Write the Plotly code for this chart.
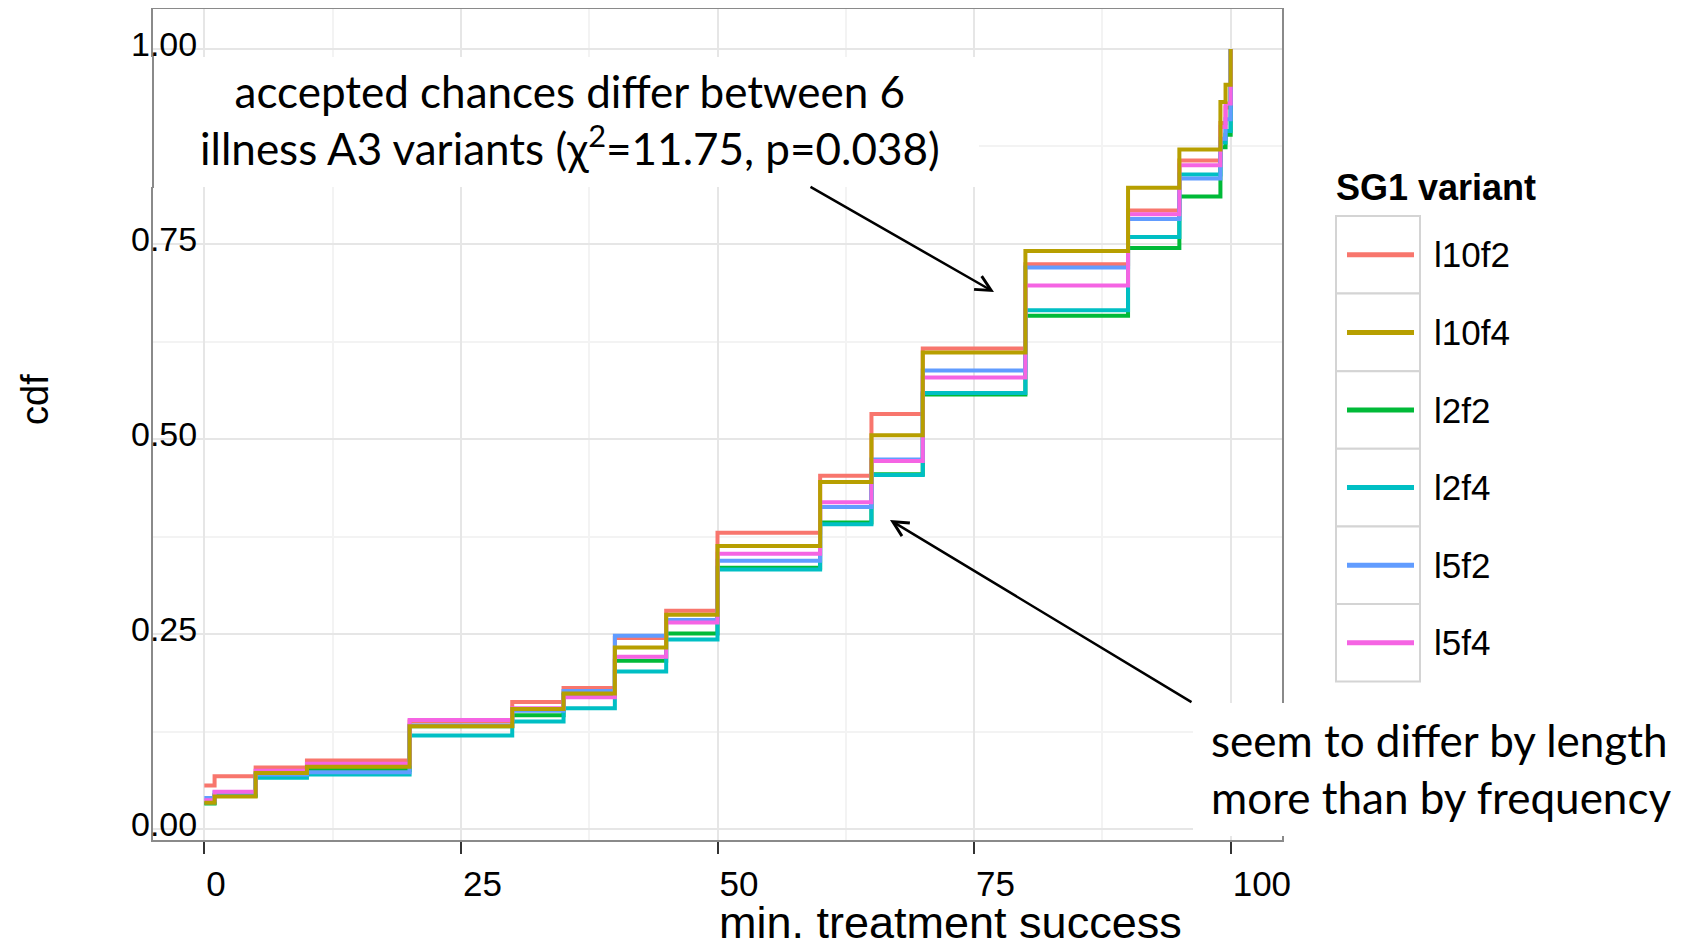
import plotly.graph_objects as go

# ---------------- data ----------------
steps_x = [0, 1, 5, 10, 20, 30, 35, 40, 45, 50, 60, 65, 70, 80, 90, 95, 99, 99.5, 100]

variants = ["l10f2", "l10f4", "l2f2", "l2f4", "l5f2", "l5f4"]
colors = ["#F8766D", "#B79F00", "#00BA38", "#00BFC4", "#619CFF", "#F564E3"]

cdf_l10f2 = [0.056, 0.068, 0.079, 0.088, 0.138, 0.163, 0.181, 0.245, 0.280, 0.380, 0.453, 0.532, 0.616, 0.724, 0.793, 0.857, 0.905, 0.925, 1.0]
cdf_l10f4 = [0.034, 0.042, 0.072, 0.080, 0.132, 0.154, 0.174, 0.233, 0.275, 0.363, 0.445, 0.505, 0.611, 0.741, 0.822, 0.871, 0.932, 0.954, 1.0]
cdf_l2f2 = [0.033, 0.043, 0.070, 0.076, 0.132, 0.146, 0.172, 0.216, 0.251, 0.335, 0.393, 0.455, 0.557, 0.658, 0.745, 0.811, 0.874, 0.890, 1.0]
cdf_l2f4 = [0.034, 0.044, 0.066, 0.070, 0.120, 0.138, 0.155, 0.202, 0.243, 0.333, 0.391, 0.454, 0.559, 0.665, 0.759, 0.839, 0.880, 0.895, 1.0]
cdf_l5f2 = [0.040, 0.047, 0.070, 0.073, 0.133, 0.152, 0.177, 0.248, 0.268, 0.344, 0.413, 0.474, 0.588, 0.720, 0.782, 0.834, 0.885, 0.910, 1.0]
cdf_l5f4 = [0.037, 0.048, 0.075, 0.084, 0.140, 0.155, 0.169, 0.221, 0.265, 0.353, 0.419, 0.472, 0.579, 0.697, 0.788, 0.851, 0.900, 0.930, 1.0]

series = {
    "l10f2": cdf_l10f2,
    "l10f4": cdf_l10f4,
    "l2f2": cdf_l2f2,
    "l2f4": cdf_l2f4,
    "l5f2": cdf_l5f2,
    "l5f4": cdf_l5f4,
}
draw_order = ["l10f2", "l2f2", "l2f4", "l5f2", "l5f4", "l10f4"]

x_ticks = [0, 25, 50, 75, 100]
y_ticks = [0, 0.25, 0.5, 0.75, 1.0]
x_minor = [12.5, 37.5, 62.5, 87.5]
y_minor = [0.125, 0.375, 0.625, 0.875]

# ---------------- layout helpers ----------------
# the page body has an 8px margin, so the figure starts at screen (8, 8)
OFF = 8
SCREEN_W, SCREEN_H = 1696, 940
W, H = SCREEN_W - OFF, SCREEN_H - OFF
L, R, T, B = 153, 1282, 9, 840  # plot area in screen pixels


def px(x):
    return (x - L) / (R - L)


def py(y):
    return (B - y) / (B - T)


AX_FONT = "Liberation Sans, Arial, sans-serif"
TXT_FONT = "Lato, Carlito, Calibri, sans-serif"

fig = go.Figure()
for name in draw_order:
    i = variants.index(name)
    fig.add_trace(go.Scatter(
        x=steps_x, y=series[name], mode="lines", name=name,
        line=dict(color=colors[i], width=4, shape="hv"),
        showlegend=False,
    ))

shapes = []
annotations = []

# white boxes behind the slide text
shapes.append(dict(type="rect", xref="paper", yref="paper", layer="above",
                   x0=px(118), x1=px(979), y0=py(187), y1=py(57),
                   fillcolor="white", line=dict(width=0)))
shapes.append(dict(type="line", xref="paper", yref="paper", layer="above",
                   x0=0, x1=0, y0=py(188), y1=py(56),
                   line=dict(color="#8a8a8a", width=2)))
shapes.append(dict(type="rect", xref="paper", yref="paper", layer="above",
                   x0=px(1193), x1=px(1700), y0=py(836), y1=py(703),
                   fillcolor="white", line=dict(width=0)))

# custom legend
row_h = 77.6
top0 = 216
for i, name in enumerate(variants):
    y0 = top0 + i * row_h
    y1 = y0 + row_h
    yc = (y0 + y1) / 2
    shapes.append(dict(type="rect", xref="paper", yref="paper",
                       x0=px(1336), x1=px(1420), y0=py(y1), y1=py(y0),
                       fillcolor="white", line=dict(color="#d4d4d4", width=2)))
    shapes.append(dict(type="line", xref="paper", yref="paper",
                       x0=px(1347), x1=px(1414), y0=py(yc), y1=py(yc),
                       line=dict(color=colors[i], width=5)))
    annotations.append(dict(xref="paper", yref="paper", x=px(1432), y=py(yc),
                            text=name, showarrow=False, xanchor="left", yanchor="middle",
                            font=dict(family=AX_FONT, size=35, color="black")))
annotations.append(dict(xref="paper", yref="paper", x=px(1334), y=py(187),
                        text="<b>SG1 variant</b>", showarrow=False,
                        xanchor="left", yanchor="middle",
                        font=dict(family=AX_FONT, size=36, color="black")))

# axis titles
annotations.append(dict(xref="paper", yref="paper", x=px(950), y=py(950),
                        text="min. treatment success", showarrow=False,
                        xanchor="center", yanchor="bottom",
                        font=dict(family=AX_FONT, size=45, color="black")))
annotations.append(dict(xref="paper", yref="paper", x=px(35), y=py(400),
                        text="cdf", showarrow=False, textangle=-90,
                        xanchor="center", yanchor="middle",
                        font=dict(family=AX_FONT, size=38, color="black")))

# slide text
annotations.append(dict(xref="paper", yref="paper", x=px(570), y=py(119),
                        text="accepted chances differ between 6<br>illness A3 variants (χ<sup>2</sup>=11.75, p=0.038)",
                        showarrow=False, xanchor="center", yanchor="middle", align="center",
                        font=dict(family=TXT_FONT, size=44, color="black")))
annotations.append(dict(xref="paper", yref="paper", x=px(1209), y=py(768),
                        text="seem to differ by length<br>more than by frequency",
                        showarrow=False, xanchor="left", yanchor="middle", align="left",
                        font=dict(family=TXT_FONT, size=44, color="black")))

# arrows
annotations.append(dict(xref="paper", yref="paper", x=px(994), y=py(292),
                        ax=809 - 994, ay=186 - 292, text="", showarrow=True,
                        arrowhead=5, arrowsize=1.2, arrowwidth=2.5, arrowcolor="black",
                        standoff=0))
annotations.append(dict(xref="paper", yref="paper", x=px(890), y=py(520),
                        ax=1193 - 890, ay=703 - 520, text="", showarrow=True,
                        arrowhead=5, arrowsize=1.2, arrowwidth=2.5, arrowcolor="black",
                        standoff=0))

fig.update_layout(
    width=W, height=H,
    margin=dict(l=L - OFF, r=SCREEN_W - R, t=T - OFF, b=SCREEN_H - B, autoexpand=False),
    paper_bgcolor="white", plot_bgcolor="white",
    shapes=shapes, annotations=annotations,
    showlegend=False,
    font=dict(family=AX_FONT, color="black"),
)
fig.update_xaxes(
    range=[-5, 105], tickvals=x_ticks, ticktext=[str(v) for v in x_ticks],
    ticks="outside", ticklen=12, tickwidth=2, tickcolor="#333333",
    ticklabelposition="outside right", ticklabelstandoff=12,
    tickfont=dict(family=AX_FONT, size=35, color="black"),
    showgrid=True, gridcolor="#e6e6e6", gridwidth=2,
    minor=dict(tickvals=x_minor, showgrid=True, gridcolor="#f3f3f3", gridwidth=2),
    showline=True, linecolor="#8a8a8a", linewidth=2, mirror=True,
    zeroline=False, fixedrange=True,
)
fig.update_yaxes(
    range=[-0.0138, 1.0512], tickvals=y_ticks, ticktext=["%.2f" % v for v in y_ticks],
    ticks="", ticklabelstandoff=-53, ticklabelshift=-5,
    tickfont=dict(family=AX_FONT, size=34, color="black"),
    showgrid=True, gridcolor="#e6e6e6", gridwidth=2,
    minor=dict(tickvals=y_minor, showgrid=True, gridcolor="#f3f3f3", gridwidth=2),
    showline=True, linecolor="#8a8a8a", linewidth=2, mirror=True,
    zeroline=False, fixedrange=True,
)

fig.write_html("out.html")
